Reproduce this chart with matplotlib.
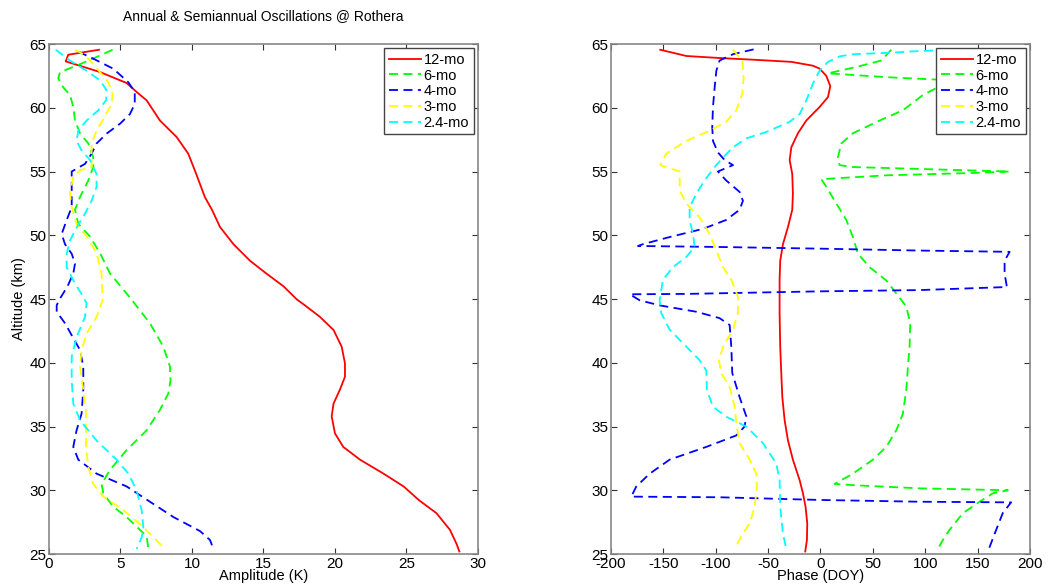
import numpy as np
import matplotlib
matplotlib.use('Agg')
import matplotlib.pyplot as plt

plt.rcParams['font.family'] = ['Liberation Sans', 'DejaVu Sans']
plt.rcParams['axes.unicode_minus'] = False

# ---- amplitude profiles (K) vs altitude (km) ----
amp12_alt = [64.55, 64.16, 63.64, 62.8, 61.94, 61.24, 60.58, 59.0, 57.7, 56.4, 54.8, 53.0, 52.0, 50.65,
             49.3, 48.0, 47.0, 46.0, 45.0, 44.5, 43.6, 42.57, 41.26, 39.95, 38.9, 37.9, 36.8, 35.8,
             34.46, 33.4, 32.4, 31.3, 30.3, 29.2, 28.2, 26.9, 25.8, 25.2]
amp12 = [3.5, 1.35, 1.17, 3.57, 5.43, 6.13, 6.83, 7.76, 8.93, 9.74, 10.3, 10.9, 11.4, 11.96,
         12.9, 14.06, 15.2, 16.4, 17.3, 17.9, 18.95, 19.9, 20.47, 20.7, 20.7, 20.35, 19.9, 19.77,
         20.0, 20.58, 21.75, 23.4, 24.8, 25.9, 27.1, 28.04, 28.5, 28.7]

amp6_alt = [64.55, 64.1, 63.3, 62.8, 62.3, 61.6, 61.0, 60.06, 59.0, 58.0, 57.2, 56.1, 55.35, 54.3,
            53.0, 52.0, 50.9, 49.9, 48.6, 47.0, 45.2, 43.1, 41.26, 39.7, 38.6, 37.6, 36.3, 34.7,
            33.15, 31.6, 30.5, 29.76, 28.7, 27.9, 26.9, 26.4, 25.4]
amp6 = [4.45, 3.57, 1.93, 0.77, 0.65, 1.0, 1.47, 1.7, 1.82, 2.17, 2.75, 3.1, 3.1, 2.75,
        2.17, 1.82, 2.05, 2.87, 3.57, 4.27, 5.6, 7.06, 8.0, 8.46, 8.5, 8.35, 7.76, 6.83,
        5.43, 4.27, 3.68, 3.8, 4.5, 5.43, 6.36, 6.83, 6.95]

amp4_alt = [64.4, 63.85, 63.06, 62.0, 61.24, 60.3, 59.5, 58.75, 57.97, 57.2, 56.4, 55.6, 55.0, 53.8,
            52.2, 51.2, 50.1, 49.3, 48.55, 47.77, 47.0, 46.0, 44.9, 44.5, 44.0, 43.1, 41.0, 39.7,
            37.9, 36.0, 34.7, 33.4, 32.4, 31.3, 30.3, 29.1, 27.9, 26.8, 26.1, 25.4]
amp4 = [2.05, 3.1, 4.5, 5.55, 6.0, 6.0, 5.66, 4.97, 4.03, 3.33, 2.98, 2.52, 1.59, 1.59,
        1.59, 1.24, 0.89, 1.12, 1.59, 1.82, 1.7, 1.3, 0.7, 0.54, 0.54, 1.12, 2.17, 2.4,
        2.4, 2.28, 1.93, 1.7, 2.05, 3.33, 5.43, 7.06, 8.7, 10.56, 11.26, 11.5]

amp3_alt = [64.55, 64.2, 63.7, 62.8, 62.0, 61.1, 60.3, 59.3, 58.2, 57.2, 56.1, 55.35, 55.1, 54.6,
            53.3, 52.2, 50.9, 49.9, 48.6, 47.0, 44.9, 43.6, 42.3, 41.0, 39.7, 37.9, 36.0, 33.4,
            31.85, 30.5, 29.5, 28.45, 27.1, 26.1, 25.4]
amp3 = [1.82, 2.4, 2.87, 3.57, 4.15, 4.45, 4.38, 3.9, 3.33, 2.98, 2.98, 2.98, 2.17, 1.7,
        1.47, 1.59, 1.93, 2.63, 3.33, 3.68, 3.75, 3.33, 2.63, 2.28, 2.17, 2.4, 2.59, 2.59,
        2.75, 3.1, 3.8, 5.2, 6.6, 7.5, 8.1]

amp24_alt = [64.55, 63.7, 62.9, 62.15, 61.37, 60.6, 59.8, 59.0, 58.2, 57.4, 56.66, 55.9, 54.8, 53.8,
             52.7, 51.7, 50.6, 49.6, 48.55, 47.5, 46.46, 45.16, 44.66, 43.6, 42.0, 40.5, 38.6, 36.8,
             35.5, 33.9, 32.4, 31.3, 30.0, 28.45, 27.1, 26.3, 25.4]
amp24 = [0.47, 1.47, 2.63, 3.57, 4.03, 4.0, 3.45, 2.63, 2.05, 1.93, 2.28, 2.87, 3.33, 3.33,
         2.98, 2.52, 1.93, 1.47, 1.24, 1.24, 1.7, 2.4, 2.63, 2.52, 1.93, 1.59, 1.59, 1.7,
         2.17, 3.33, 4.73, 5.55, 6.13, 6.48, 6.6, 6.48, 6.13]

# ---- phase profiles (DOY) vs altitude (km) ----
ph12_alt = [64.55, 64.06, 63.9, 63.77, 63.6, 63.3, 63.07, 62.5, 61.7, 60.84, 60.06, 59.0, 58.0, 56.9,
            55.9, 54.8, 53.26, 52.0, 50.65, 49.3, 48.0, 46.5, 43.9, 41.26, 39.2, 37.3, 35.5, 33.9,
            32.4, 30.8, 29.76, 28.7, 27.4, 26.1, 25.2]
ph12 = [-152.9, -128, -96, -64.4, -27.8, -7.2, -0.8, 5.6, 9.4, 7.2, -0.8, -13.5, -21.5, -27.8,
        -29.4, -26.9, -26.3, -26.9, -31, -35.8, -38.4, -39, -39, -38.4, -37.4, -36.4, -34.2, -31,
        -26.3, -19.9, -16.7, -14.2, -12.6, -12.9, -14.5]

ph6_alt = [64.55, 63.7, 63.2, 62.7, 62.4, 62.2, 62.1, 61.6, 61.0, 59.8, 59.0, 58.0, 57.2, 56.1,
           55.5, 55.35, 55.2, 55.0, 54.9, 54.7, 54.4, 53.8, 52.5, 51.2, 49.86, 48.55, 47.5, 46.46,
           45.44, 44.4, 43.1, 41.26, 39.7, 37.9, 36.0, 34.7, 33.4, 32.4, 31.3, 30.5, 30.4, 30.15,
           30.0, 29.76, 29.1, 28.2, 26.9, 26.1, 25.4]
ph6 = [67.6, 58, 34.2, 7.2, 62.8, 113.7, 135, 112, 97.8, 78.7, 56.5, 31, 19.9, 16.7,
       18.3, 31, 94.7, 180.6, 152, 62.8, 0.8, 5.6, 15.1, 24.7, 31, 35.8, 46.9, 62.8,
       72.4, 82, 85.7, 85.1, 83.5, 82, 78.7, 72.4, 62.8, 50.1, 31, 13.5, 31, 94.7,
       179, 164.6, 151.9, 136, 123.3, 116.9, 112.1]

ph4_alt = [64.58, 64.2, 63.7, 62.9, 61.6, 60.06, 58.5, 57.4, 56.5, 55.9, 55.5, 55.0, 54.3, 53.4,
           52.7, 52.0, 51.2, 50.5, 49.86, 49.3, 49.16, 49.08, 48.95, 48.8, 48.7, 48.0, 47.0, 45.94,
           45.7, 45.6, 45.4, 45.37, 44.9, 44.5, 44.0, 43.5, 42.96, 41.26, 39.2, 37.3, 35.8, 35.0,
           34.3, 33.4, 32.4, 31.3, 30.3, 29.5, 29.45, 29.24, 29.1, 29.05, 28.2, 26.9, 25.4]
ph4 = [-63.8, -83.5, -96.3, -99.4, -101, -102.6, -103.3, -102.6, -97.9, -91.5, -83.5, -97.9, -90, -77.2,
       -74, -77.2, -90, -112.2, -144, -169.5, -174.2, -96.3, -0.8, 94.7, 180.6, 175.8, 175.8, 178,
       94.7, -0.8, -128, -182, -172.6, -153.5, -118.5, -96.3, -86.7, -85.1, -84.2, -77.2, -70.8, -72.4,
       -80.3, -109, -144, -163, -175.8, -180.6, -96.3, -0.8, 94.7, 182, 174, 167.8, 160.8]

ph3_alt = [64.55, 63.7, 62.4, 61.1, 59.8, 58.9, 58.2, 57.4, 56.4, 55.5, 55.0, 53.5, 52.5, 51.4,
           50.1, 48.8, 47.5, 46.5, 45.2, 43.9, 42.6, 41.26, 40.2, 39.2, 38.1, 36.55, 35.25, 33.7,
           32.4, 31.3, 30.3, 28.7, 27.4, 26.4, 25.4]
ph3 = [-83.5, -74.6, -73.3, -74.6, -80.3, -90, -105.8, -128, -147.2, -152.9, -134.4, -134.4, -128, -115.4,
       -105.8, -99.4, -93, -85.1, -78.8, -78.8, -83.5, -93, -96.9, -94.7, -86.7, -81.9, -80.3, -77.2,
       -67.6, -61.3, -60.6, -62.8, -67.6, -75.6, -81.9]

ph24_alt = [64.55, 64.5, 64.45, 64.3, 64.2, 64.03, 63.6, 62.9, 61.9, 60.58, 59.5, 58.9, 58.1, 57.6,
            56.9, 56.1, 55.35, 54.3, 53.26, 52.2, 51.2, 50.1, 49.1, 48.3, 47.5, 46.5, 44.9, 43.9,
            42.6, 41.26, 40.2, 39.4, 37.86, 36.55, 35.77, 35.0, 33.7, 32.1, 30.8, 28.7, 26.6, 25.4]
ph24 = [135, 112.2, 94.7, 62.8, 31, 18.3, 7.2, -0.8, -7.2, -13.5, -19.9, -29.4, -51.7, -70.8,
        -83.5, -93, -101, -110.6, -118.5, -124.9, -124.9, -121.7, -120.1, -128, -140.8, -150.4, -153.5, -152,
        -144, -128, -115.4, -109, -108.4, -102.6, -90, -70.8, -54.9, -42.2, -39, -38.4, -35.8, -32.6]

labels = ['12-mo', '6-mo', '4-mo', '3-mo', '2.4-mo']
colors = ['#ff0000', '#00ff00', '#0000ff', '#ffff00', '#00ffff']
styles = ['-', '--', '--', '--', '--']

amp_series = [(amp12, amp12_alt), (amp6, amp6_alt), (amp4, amp4_alt), (amp3, amp3_alt), (amp24, amp24_alt)]
ph_series = [(ph12, ph12_alt), (ph6, ph6_alt), (ph4, ph4_alt), (ph3, ph3_alt), (ph24, ph24_alt)]

fig = plt.figure(figsize=(10.53, 5.86), dpi=100)
ax1 = fig.add_axes([0.0465, 0.0546, 0.4074, 0.8703])
ax2 = fig.add_axes([0.5802, 0.0546, 0.3979, 0.8703])

for ax, series in [(ax1, amp_series), (ax2, ph_series)]:
    for (x, y), lab, c, ls in zip(series, labels, colors, styles):
        ax.plot(x, y, ls, color=c, lw=1.3, label=lab, dashes=(5, 3) if ls == '--' else (None, None))
    ax.set_ylim(25, 65)
    ax.set_yticks(np.arange(25, 66, 5))
    ax.tick_params(direction='in', top=True, right=True, length=4, labelsize=11, colors='#333333',
                   labelcolor='black', pad=2)
    for s in ax.spines.values():
        s.set_color('#888888')
        s.set_linewidth(1.2)
    leg = ax.legend(loc='upper right', fontsize=10.5, handlelength=2.2, borderaxespad=0.3,
                    fancybox=False, framealpha=1, labelspacing=0.12, handletextpad=0.2,
                    borderpad=0.3)
    leg.get_frame().set_edgecolor('#444444')

ax1.set_xlim(0, 30)
ax1.set_xticks(np.arange(0, 31, 5))
ax1.set_xlabel('Amplitude (K)', fontsize=10.5, labelpad=-1)
ax1.set_ylabel('Altitude (km)', fontsize=10.5, labelpad=2)
ax1.set_title('Annual & Semiannual Oscillations @ Rothera', fontsize=10, pad=17)

ax2.set_xlim(-200, 200)
ax2.set_xticks(np.arange(-200, 201, 50))
ax2.set_xlabel('Phase (DOY)', fontsize=10.5, labelpad=-1)

fig.savefig('out.png', dpi=100)
